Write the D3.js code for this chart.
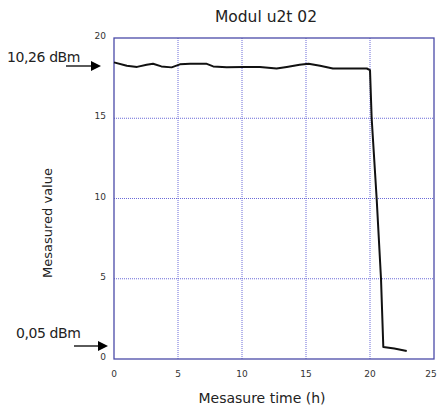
<!DOCTYPE html>
<html>
<head>
<meta charset="utf-8">
<script src="https://cdn.jsdelivr.net/npm/d3@7"></script>
<style>
  body { margin: 0; background: #fff; }
  text { font-family: "DejaVu Sans", Verdana, sans-serif; }
</style>
</head>
<body>
<div class="container"></div>
<script>
const WIDTH = 438;
const HEIGHT = 409;
const LEFT = 114, TOP = 38, RIGHT = 434, BOTTOM = 359;

// measurement (hours, value)
var hours  = [0, 1.0, 1.8, 2.55, 3.05, 3.7, 4.5, 5.15, 5.95, 7.2, 7.75, 8.8, 10.1, 11.4, 12.7, 13.5, 14.5, 15.2, 16.1, 17.1, 19.75, 20.0, 20.13, 20.52, 20.86, 21.04, 21.9, 22.87];
var values = [18.48, 18.27, 18.2, 18.33, 18.4, 18.23, 18.17, 18.36, 18.4, 18.4, 18.23, 18.17, 18.2, 18.19, 18.1, 18.2, 18.33, 18.4, 18.27, 18.1, 18.1, 18.0, 15.0, 10.0, 5.0, 0.75, 0.65, 0.5];

var xTicks = [0, 5, 10, 15, 20, 25];
var yTicks = [0, 5, 10, 15, 20];

var title = "Modul u2t 02";
var xTitle = "Mesasure time (h)";
var yTitle = "Mesasured value";
var markers = ["10,26 dBm", "0,05 dBm"];

var svg = d3.select('.container').append('svg')
  .attr('width', WIDTH)
  .attr('height', HEIGHT);

var xScale = d3.scaleLinear().domain([0, 25]).range([LEFT, RIGHT]);
var yScale = d3.scaleLinear().domain([0, 20]).range([BOTTOM, TOP]);

// grid
svg.append('g').selectAll('line')
  .data(xTicks.slice(1, -1))
  .enter().append('line')
  .attr('x1', d => xScale(d)).attr('x2', d => xScale(d))
  .attr('y1', TOP).attr('y2', BOTTOM)
  .attr('stroke', '#6a6ad8').attr('stroke-width', 1)
  .attr('stroke-dasharray', '1,1');

svg.append('g').selectAll('line')
  .data(yTicks.slice(1, -1))
  .enter().append('line')
  .attr('y1', d => yScale(d)).attr('y2', d => yScale(d))
  .attr('x1', LEFT).attr('x2', RIGHT)
  .attr('stroke', '#6a6ad8').attr('stroke-width', 1)
  .attr('stroke-dasharray', '1,1');

svg.append('rect')
  .attr('x', LEFT).attr('y', TOP)
  .attr('width', RIGHT - LEFT).attr('height', BOTTOM - TOP)
  .attr('fill', 'none').attr('stroke', '#4a4aa8').attr('stroke-width', 1.3);

// tick labels (last one kept inside the window edge)
svg.append('g').selectAll('text')
  .data(xTicks)
  .enter().append('text')
  .attr('x', d => Math.min(xScale(d), WIDTH - 7)).attr('y', 377)
  .attr('text-anchor', 'middle')
  .attr('font-size', 9).attr('fill', '#333')
  .text(d => d);

svg.append('g').selectAll('text')
  .data(yTicks)
  .enter().append('text')
  .attr('x', 106).attr('y', d => yScale(d) + 1)
  .attr('text-anchor', 'end')
  .attr('font-size', 9).attr('fill', '#333')
  .text(d => d);

// line
var line = d3.line()
  .x((d, i) => xScale(hours[i]))
  .y(d => yScale(d));

svg.append('path')
  .datum(values)
  .attr('d', line)
  .attr('fill', 'none')
  .attr('stroke', '#111')
  .attr('stroke-width', 2)
  .attr('stroke-linejoin', 'round');

// titles
svg.append('text')
  .attr('x', 266).attr('y', 22)
  .attr('text-anchor', 'middle')
  .attr('font-size', 15.5).attr('fill', '#222')
  .text(title);

svg.append('text')
  .attr('x', 262).attr('y', 403)
  .attr('text-anchor', 'middle')
  .attr('font-size', 14).attr('fill', '#222')
  .text(xTitle);

svg.append('text')
  .attr('transform', 'translate(52,223) rotate(-90)')
  .attr('text-anchor', 'middle')
  .attr('font-size', 13).attr('fill', '#222')
  .text(yTitle);

// annotations with arrows
svg.append('defs').append('marker')
  .attr('id', 'arrow')
  .attr('viewBox', '0 0 10 10')
  .attr('refX', 10).attr('refY', 5)
  .attr('markerUnits', 'userSpaceOnUse')
  .attr('markerWidth', 11).attr('markerHeight', 10)
  .attr('orient', 'auto')
  .append('path').attr('d', 'M0,0 L10,5 L0,10 z').attr('fill', '#000');

var ann = [{y: 62, ay: 66, tx: 7, ax1: 66, ax2: 101}, {y: 338, ay: 346, tx: 16, ax1: 74, ax2: 108}];
markers.forEach(function (m, i) {
  var a = ann[i];
  svg.append('text')
    .attr('x', a.tx).attr('y', a.y)
    .attr('font-size', 14).attr('fill', '#222')
    .attr('letter-spacing', -0.4)
    .text(m);
  svg.append('line')
    .attr('x1', a.ax1).attr('x2', a.ax2 - 6)
    .attr('y1', a.ay).attr('y2', a.ay)
    .attr('stroke', '#000').attr('stroke-width', 1.3);
  svg.append('line')
    .attr('x1', a.ax2 - 8).attr('x2', a.ax2)
    .attr('y1', a.ay).attr('y2', a.ay)
    .attr('stroke', 'none')
    .attr('marker-end', 'url(#arrow)');
});
</script>
</body>
</html>
